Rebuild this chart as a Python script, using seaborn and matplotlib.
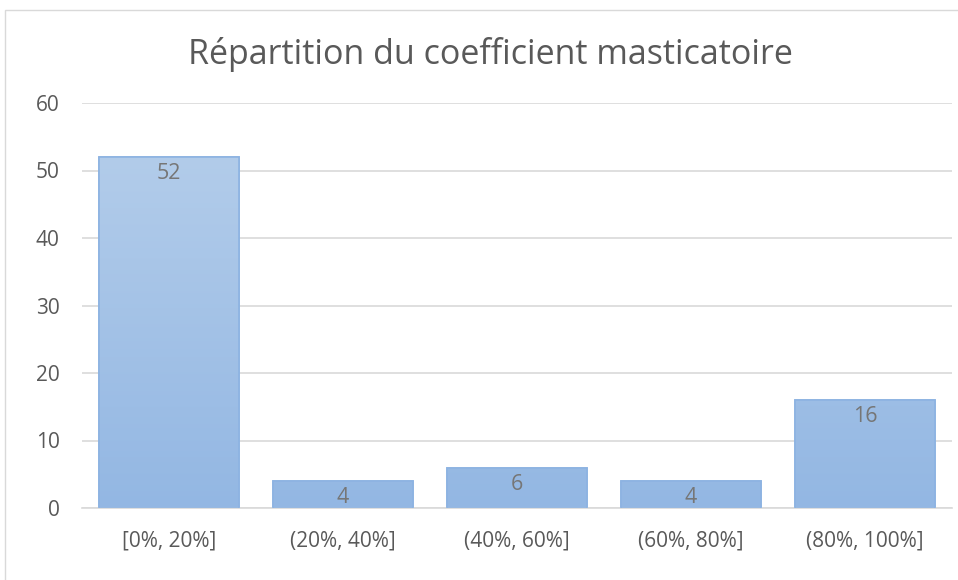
import matplotlib
matplotlib.use("Agg")
import matplotlib.pyplot as plt
import seaborn as sns
import numpy as np
import pandas as pd
from matplotlib.colors import LinearSegmentedColormap
from matplotlib.patches import Rectangle

categories = ["[0%, 20%]", "(20%, 40%]", "(40%, 60%]", "(60%, 80%]", "(80%, 100%]"]
counts = [52, 4, 6, 4, 16]
title = "Répartition du coefficient masticatoire"
yticks = [0, 10, 20, 30, 40, 50, 60]

sns.set_style("white")
plt.rcParams["font.family"] = ["Open Sans", "DejaVu Sans"]

df = pd.DataFrame({"cat": categories, "n": counts})

fig = plt.figure(figsize=(9.58, 5.8), dpi=100)
ax = fig.add_axes([82/958, 72/580, 870/958, 405/580])

sns.barplot(data=df, x="cat", y="n", ax=ax, color="#94B8E3", width=0.8,
            edgecolor="#8DB3E2", linewidth=1.2, saturation=1, zorder=2)

cmap = LinearSegmentedColormap.from_list("g", ["#93B7E3", "#B2CCEA"])
grad = np.linspace(0, 1, 256).reshape(-1, 1)
ymax_grad = max(counts)
for p in ax.patches:
    x0, w = p.get_x(), p.get_width()
    h = p.get_height()
    im = ax.imshow(grad[: int(256 * h / ymax_grad) or 1], cmap=cmap, vmin=0, vmax=1,
                   aspect="auto", origin="lower",
                   extent=[x0, x0 + w, 0, h], zorder=2.5, interpolation="bilinear")
    im.set_clip_path(p)
    r = Rectangle((x0, 0), w, h, fill=False, edgecolor="#8DB3E2", linewidth=1.2, zorder=3)
    ax.add_patch(r)

for i, v in enumerate(counts):
    ax.text(i, v - 0.9, str(v), ha="center", va="top", fontsize=15.5, color="#767676", zorder=4)

ax.set_xlim(-0.5, len(categories) - 0.5)
ax.set_ylim(0, 60)
ax.set_yticks(yticks)
ax.yaxis.grid(True, color="#D9D9D9", linewidth=1.2, zorder=0)
ax.set_axisbelow(True)
for s in ["left", "right", "top"]:
    ax.spines[s].set_visible(False)
ax.spines["bottom"].set_color("#D9D9D9")
ax.spines["bottom"].set_linewidth(1.2)
ax.tick_params(axis="both", length=0, labelsize=15, colors="#595959")
ax.tick_params(axis="x", pad=16)
ax.tick_params(axis="y", pad=16)
ax.set_xlabel("")
ax.set_ylabel("")

fig.text(490/958, 1 - 55/580, title, ha="center", va="center", fontsize=24.5, color="#595959")

fig.patches.append(Rectangle((5/958, -0.1), 1.2, 1 - 10/580 + 0.1, transform=fig.transFigure,
                             fill=False, edgecolor="#D9D9D9", linewidth=1, zorder=0))

fig.savefig("out.png", dpi=100)
